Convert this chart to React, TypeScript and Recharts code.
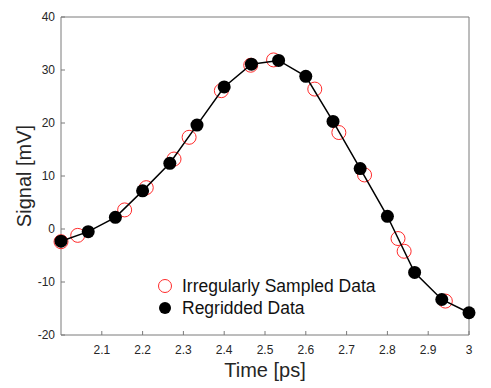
import { ScatterChart, Scatter, XAxis, YAxis, Legend } from "recharts";

// regridded samples (evenly spaced, 1/15 ps)
const regriddedTime = [
  2.0, 2.0667, 2.1333, 2.2, 2.2667, 2.3333, 2.4, 2.4667, 2.5333, 2.6, 2.6667,
  2.7333, 2.8, 2.8667, 2.9333, 3.0,
];
const regriddedSignal = [
  -2.3, -0.5, 2.2, 7.2, 12.4, 19.6, 26.8, 31.1, 31.8, 28.8, 20.3, 11.4, 2.4,
  -8.2, -13.3, -15.8,
];

// irregular samples
const irregularTime = [
  2.0, 2.041, 2.156, 2.209, 2.277, 2.314, 2.393, 2.465, 2.521, 2.622, 2.681,
  2.744, 2.826, 2.841, 2.942,
];
const irregularSignal = [
  -2.4, -1.2, 3.6, 7.8, 13.2, 17.3, 26.1, 30.9, 31.9, 26.4, 18.2, 10.2, -1.8,
  -4.2, -13.6,
];

const timeTicks = [2.1, 2.2, 2.3, 2.4, 2.5, 2.6, 2.7, 2.8, 2.9, 3];
const signalTicks = [-20, -10, 0, 10, 20, 30, 40];

const regridded = regriddedTime.map((t, i) => ({ t, s: regriddedSignal[i] }));
const irregular = irregularTime.map((t, i) => ({ t, s: irregularSignal[i] }));

const FONT = "'Liberation Sans', Arial, Helvetica, sans-serif";
const AXIS = "#7a7a7a";
const tickStyle = { fill: "#262626", fontSize: 12, fontFamily: FONT };

const RedRing = (p: any) => (
  <circle cx={p.cx} cy={p.cy} r={7} fill="none" stroke="#ff2a2a" strokeWidth={1} />
);
const BlackDot = (p: any) => <circle cx={p.cx} cy={p.cy} r={6.5} fill="#000" />;

const legendItems = [
  { label: "Irregularly Sampled Data", filled: false },
  { label: "Regridded Data", filled: true },
];

const renderLegend = () => (
  <div style={{ fontFamily: FONT, fontSize: 17.5, color: "#111" }}>
    {legendItems.map((it) => (
      <div
        key={it.label}
        style={{ display: "flex", alignItems: "center", height: 22, whiteSpace: "nowrap" }}
      >
        <svg width={16} height={16} style={{ marginRight: 9 }}>
          {it.filled ? (
            <circle cx={8} cy={8} r={6} fill="#000" />
          ) : (
            <circle cx={8} cy={8} r={6.5} fill="none" stroke="#ff2a2a" strokeWidth={1} />
          )}
        </svg>
        <span>{it.label}</span>
      </div>
    ))}
  </div>
);

export default function App() {
  return (
    <ScatterChart
      width={483}
      height={380}
      margin={{ top: 8, right: 21, bottom: 0, left: 0 }}
    >
      <XAxis
        xAxisId="bottom"
        type="number"
        dataKey="t"
        domain={[2, 3]}
        ticks={timeTicks}
        height={53}
        stroke={AXIS}
        tick={tickStyle}
        tickSize={-4}
        tickMargin={14}
        label={{
          content: (props: any) => {
            const vb = props.viewBox;
            return (
              <text
                x={vb.x + vb.width / 2}
                y={vb.y + 42}
                textAnchor="middle"
                fontSize={20}
                fontFamily={FONT}
                fill="#262626"
              >
                Time [ps]
              </text>
            );
          },
        }}
      />
      <XAxis
        xAxisId="top"
        orientation="top"
        type="number"
        dataKey="t"
        domain={[2, 3]}
        ticks={timeTicks}
        height={1}
        stroke={AXIS}
        tick={false}
        tickSize={-4}
      />
      <YAxis
        yAxisId="left"
        type="number"
        dataKey="s"
        domain={[-20, 40]}
        ticks={signalTicks}
        width={53}
        stroke={AXIS}
        tick={tickStyle}
        tickSize={-4}
        tickMargin={10}
        label={{
          content: (props: any) => {
            const vb = props.viewBox;
            const cy = vb.y + vb.height / 2;
            const x = 22.6;
            return (
              <text
                x={x}
                y={cy}
                transform={`rotate(-90 ${x} ${cy})`}
                textAnchor="middle"
                fontSize={20}
                fontFamily={FONT}
                fill="#262626"
              >
                Signal [mV]
              </text>
            );
          },
        }}
      />
      <YAxis
        yAxisId="right"
        orientation="right"
        type="number"
        dataKey="s"
        domain={[-20, 40]}
        ticks={signalTicks}
        width={1}
        stroke={AXIS}
        tick={false}
        tickSize={-4}
      />
      <Legend
        layout="vertical"
        align="center"
        verticalAlign="middle"
        content={renderLegend}
        wrapperStyle={{ left: 149, top: 267, width: 260, height: 44 }}
      />
      <Scatter
        name="Irregularly Sampled Data"
        data={irregular}
        xAxisId="bottom"
        yAxisId="left"
        shape={RedRing}
        isAnimationActive={false}
      />
      <Scatter
        name="Regridded Data"
        data={regridded}
        xAxisId="bottom"
        yAxisId="left"
        shape={BlackDot}
        line={{ stroke: "#000", strokeWidth: 1.5 }}
        lineType="joint"
        isAnimationActive={false}
      />
    </ScatterChart>
  );
}
